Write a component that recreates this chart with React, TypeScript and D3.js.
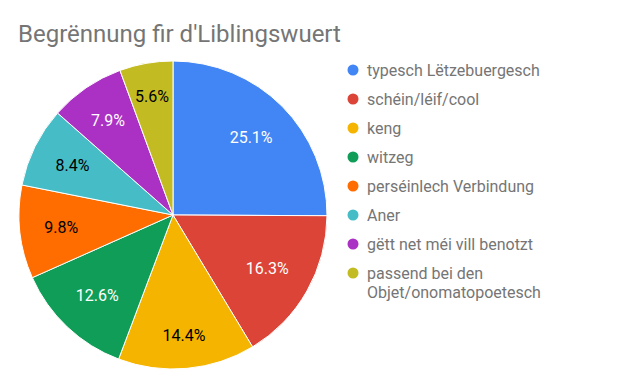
import React from 'react'
import { pie, arc } from 'd3'

const categories = [
  'typesch Lëtzebuergesch',
  'schéin/léif/cool',
  'keng',
  'witzeg',
  'perséinlech Verbindung',
  'Aner',
  'gëtt net méi vill benotzt',
  'passend bei den Objet/onomatopoetesch',
]
const values = [25.1, 16.3, 14.4, 12.6, 9.8, 8.4, 7.9, 5.6]
const colors = ['#4285f4', '#db4437', '#f4b400', '#0f9d58', '#ff6d00', '#46bdc6', '#ab30c4', '#c2bb22']
const labelColors = ['#fff', '#fff', '#000', '#fff', '#000', '#000', '#fff', '#000']

const W = 628
const H = 388
const cx = 173
const cy = 215
const R = 154
const font = 'Roboto, sans-serif'
const labelSize = 16

let ctx: CanvasRenderingContext2D | null = null
const measure = (t: string) => {
  if (!ctx) ctx = document.createElement('canvas').getContext('2d')
  if (!ctx) return t.length * labelSize * 0.55
  ctx.font = `${labelSize}px Roboto`
  return ctx.measureText(t).width
}

// push each label out so the far corner of its box sits at a fixed distance
const labelPos = (s: any, text: string) => {
  const a = (s.startAngle + s.endAngle) / 2
  const ux = Math.sin(a)
  const uy = -Math.cos(a)
  const c = [Math.sign(ux) * measure(text) / 2, Math.sign(uy) * 6]
  const D = R * 0.845
  const uc = ux * c[0] + uy * c[1]
  const r = -uc + Math.sqrt(uc * uc - (c[0] * c[0] + c[1] * c[1]) + D * D)
  return [r * ux, r * uy]
}

export default function App() {
  const slices = pie<number>().sort(null).value((d) => d)(values)
  const sliceArc = arc<any>().innerRadius(0).outerRadius(R)

  // legend lines, last label wraps onto two lines
  const legendLines = categories.map((c, i) =>
    i === categories.length - 1 ? ['passend bei den', 'Objet/onomatopoetesch'] : [c]
  )

  return (
    <svg width={W} height={H} style={{ position: 'absolute', left: 0, top: 0, background: '#fff' }}>
      <text x={18} y={42} fontFamily={font} fontSize={24} fill="#757575">
        Begrënnung fir d'Liblingswuert
      </text>
      <g transform={`translate(${cx},${cy})`}>
        {slices.map((s, i) => (
          <path key={i} d={sliceArc(s) || ''} fill={colors[i]} stroke="#fff" strokeWidth={1} />
        ))}
        {slices.map((s, i) => {
          const txt = values[i].toFixed(1) + '%'
          const [x, y] = labelPos(s, txt)
          return (
            <text
              key={'l' + i}
              x={x}
              y={y}
              dy="0.35em"
              textAnchor="middle"
              fontFamily={font}
              fontSize={labelSize}
              fill={labelColors[i]}
            >
              {txt}
            </text>
          )
        })}
      </g>
      <g>
        {legendLines.map((lines, i) => (
          <g key={i} transform={`translate(353,${70 + i * 29})`}>
            <circle r={5.5} fill={colors[i]} />
            {lines.map((t, j) => (
              <text key={j} x={14} y={j * 19.5} dy="0.35em" fontFamily={font} fontSize={16} fill="#757575">
                {t}
              </text>
            ))}
          </g>
        ))}
      </g>
    </svg>
  )
}
